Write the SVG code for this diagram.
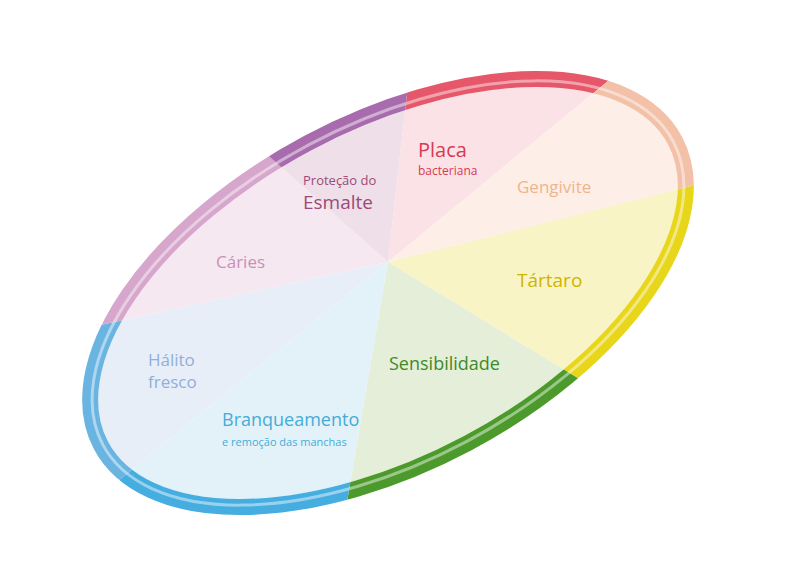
<svg xmlns="http://www.w3.org/2000/svg" width="791" height="578" viewBox="0 0 791 578">
<defs>
<clipPath id="inner"><ellipse cx="388" cy="293" rx="317" ry="162" transform="rotate(-28 388 293)"/></clipPath>
<style>
.ring{fill:none;stroke-width:16}
text{font-family:"Open Sans","Liberation Sans",sans-serif}
</style>
<ellipse id="re" cx="388" cy="293" rx="325" ry="170" transform="rotate(-28 388 293)"/>
<clipPath id="w1"><polygon points="388,262 422,-38 782,-62"/></clipPath>
<clipPath id="w2"><polygon points="388,262 782,-62 922,128"/></clipPath>
<clipPath id="w3"><polygon points="388,262 922,128 702,454"/></clipPath>
<clipPath id="w4"><polygon points="388,262 702,454 322,648"/></clipPath>
<clipPath id="w5"><polygon points="388,262 322,648 -88,648"/></clipPath>
<clipPath id="w6"><polygon points="388,262 -88,648 -188,388"/></clipPath>
<clipPath id="w7"><polygon points="388,262 -188,388 136,38"/></clipPath>
<clipPath id="w8"><polygon points="388,262 136,38 422,-38"/></clipPath>
</defs>
<rect width="791" height="578" fill="#fff"/>
<g clip-path="url(#inner)">
<g id="placa"><polygon points="388,262 422,-38 782,-62" fill="#fbe2e6"/></g>
<g id="gengivite"><polygon points="388,262 782,-62 922,128" fill="#fdefe8"/></g>
<g id="tartaro"><polygon points="388,262 922,128 702,454" fill="#f8f4c6"/></g>
<g id="sensibilidade"><polygon points="388,262 702,454 322,648" fill="#e4eed8"/></g>
<g id="branqueamento"><polygon points="388,262 322,648 -88,648" fill="#e3f2f9"/></g>
<g id="halito"><polygon points="388,262 -88,648 -188,388" fill="#e7eef8"/></g>
<g id="caries"><polygon points="388,262 -188,388 136,38" fill="#f6e8f1"/></g>
<g id="esmalte"><polygon points="388,262 136,38 422,-38" fill="#efdfe8"/></g>
</g>
<g id="ring">
<g clip-path="url(#w1)"><use href="#re" class="ring" stroke="#e6576a"/></g>
<g clip-path="url(#w2)"><use href="#re" class="ring" stroke="#f3c0a8"/></g>
<g clip-path="url(#w3)"><use href="#re" class="ring" stroke="#e8d61a"/></g>
<g clip-path="url(#w4)"><use href="#re" class="ring" stroke="#4c9a2c"/></g>
<g clip-path="url(#w5)"><use href="#re" class="ring" stroke="#45ade0"/></g>
<g clip-path="url(#w6)"><use href="#re" class="ring" stroke="#6ab4e2"/></g>
<g clip-path="url(#w7)"><use href="#re" class="ring" stroke="#d6a6cc"/></g>
<g clip-path="url(#w8)"><use href="#re" class="ring" stroke="#a86cae"/></g>
<ellipse fill="none" stroke="#fff" stroke-opacity="0.45" stroke-width="3" cx="388" cy="293" rx="323" ry="168" transform="rotate(-28 388 293)"/>
</g>
<g id="labels">
<text x="418" y="157" font-size="20" fill="#d83a50">Placa</text>
<text x="418" y="175" font-size="12" fill="#d83a50">bacteriana</text>
<text x="303" y="185" font-size="13" fill="#9c4a7a">Proteção do</text>
<text x="303" y="209" font-size="19" fill="#9c4a7a">Esmalte</text>
<text x="517" y="193" font-size="17" fill="#f0b48c">Gengivite</text>
<text x="216" y="268" font-size="17" fill="#c890b8">Cáries</text>
<text x="517" y="287" font-size="19" fill="#cfb400">Tártaro</text>
<text x="148" y="366" font-size="17" fill="#8fb0d8">Hálito</text>
<text x="148" y="388" font-size="17" fill="#8fb0d8">fresco</text>
<text x="389" y="370" font-size="18" fill="#3f8a2a">Sensibilidade</text>
<text x="222" y="426" font-size="18" fill="#45acd8">Branqueamento</text>
<text x="222" y="446" font-size="11" fill="#45acd8">e remoção das manchas</text>
</g>
</svg>
